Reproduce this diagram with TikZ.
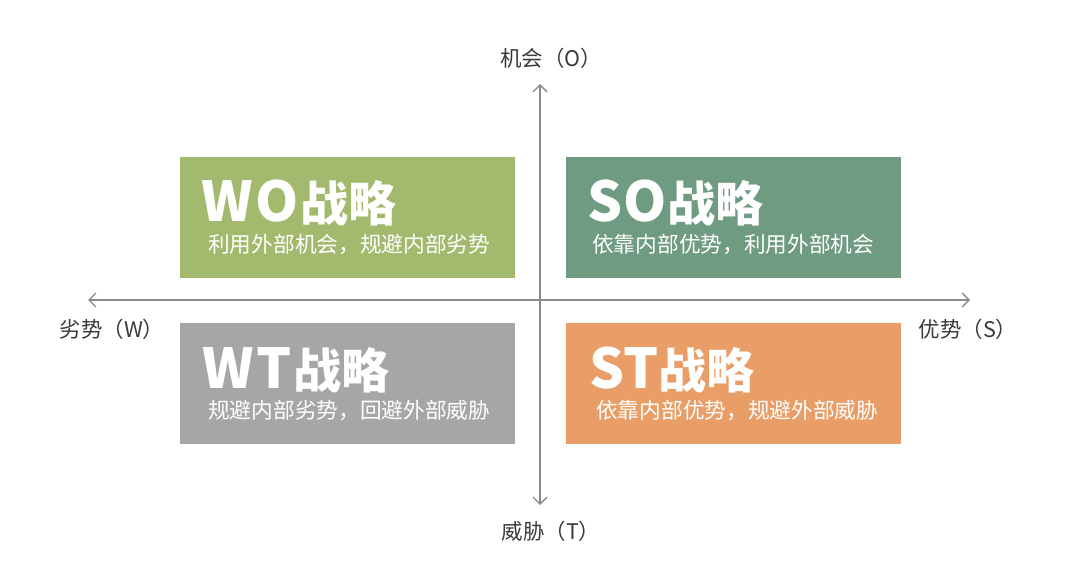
\documentclass[tikz,border=0pt]{standalone}
\usepackage{fontspec}
\setmainfont{Noto Sans CJK SC}
\newfontfamily\cjk{Noto Sans CJK SC}
\usetikzlibrary{arrows.meta}
\definecolor{cwo}{HTML}{A3BA6E}
\definecolor{cso}{HTML}{6E9B81}
\definecolor{cwt}{HTML}{A6A6A6}
\definecolor{cst}{HTML}{E89E66}
\definecolor{axisc}{HTML}{8A8A8A}
\definecolor{labc}{HTML}{3A3A3A}
\newcommand{\ttltext}[1]{{\fontsize{55}{55}\selectfont #1}}
\newcommand{\ttlzh}[1]{{\fontsize{48}{48}\selectfont #1}}
\begin{document}
\begin{tikzpicture}[x=1pt,y=-1pt,
  quad/.style={draw=none,inner sep=0pt,minimum width=335pt,minimum height=121pt,anchor=north west},
  ttl/.style={anchor=base west,text=white,font=\cjk\bfseries,inner sep=0pt},
  sub/.style={anchor=west,text=white,font=\cjk\fontsize{21.7}{22}\selectfont,inner sep=0pt},
  axlab/.style={text=labc,font=\cjk\fontsize{21.5}{22}\selectfont,inner sep=0pt},
  ax/.style={draw=axisc,line width=1.3pt,-{Straight Barb[length=7pt,width=14pt,line width=1.3pt]}}]
\useasboundingbox[fill=white] (0,0) rectangle (1080,583);
\node[quad,fill=cwo] (wo) at (180,157) {};
\node[quad,fill=cso] (so) at (566,157) {};
\node[quad,fill=cwt] (wt) at (180,323) {};
\node[quad,fill=cst] (st) at (566,323) {};
\node[ttl] (wot) at (201,222) {\ttltext{W\kern3pt O\kern2pt}\ttlzh{战略}};
\node[sub] (wos) at (208,245) {利用外部机会，规避内部劣势};
\node[ttl] (sot) at (587,222) {\ttltext{S\kern1pt O\kern1pt}\ttlzh{战略}};
\node[sub] (sos) at (592,245) {依靠内部优势，利用外部机会};
\node[ttl] (wtt) at (202,388) {\ttltext{W\kern3pt T\kern2pt}\ttlzh{战略}};
\node[sub] (wts) at (208,411) {规避内部劣势，回避外部威胁};
\node[ttl] (stt) at (589,388) {\ttltext{ST}\ttlzh{战略}};
\node[sub] (sts) at (596,411) {依靠内部优势，规避外部威胁};
\coordinate (top) at (540,84);
\coordinate (bot) at (540,505);
\coordinate (lft) at (88,300);
\coordinate (rgt) at (970,300);
\coordinate (mid) at (540,300);
\draw[ax] (mid) -- (top);
\draw[ax] (mid) -- (bot);
\draw[ax] (mid) -- (lft);
\draw[ax] (mid) -- (rgt);
\node[axlab] (o) at (551,58) {机会（O）};
\node[axlab] (t) at (551,531) {威胁（T）};
\node[axlab] (w) at (112,329) {劣势（W）};
\node[axlab] (s) at (968,329) {优势（S）};
\end{tikzpicture}
\end{document}
